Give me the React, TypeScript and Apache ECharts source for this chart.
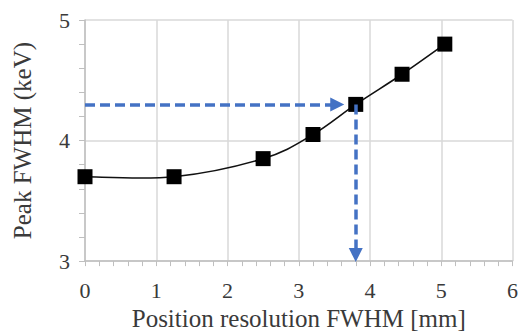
import React, { useEffect, useRef } from "react";
import * as echarts from "echarts";

const xValues = [0, 1.25, 2.5, 3.2, 3.8, 4.45, 5.05];
const yValues = [3.7, 3.7, 3.85, 4.05, 4.3, 4.55, 4.8];
const xTicks = [0, 1, 2, 3, 4, 5, 6];
const yTicks = [3, 4, 5];
const arrowLevel = 4.3;
const arrowHEnd = 3.54;
const arrowX = 3.8;
const arrowVEnd = 3.05;

const FONT = "'Liberation Serif', 'Times New Roman', serif";
const TEXT = "#3a3a3a";

export default function App() {
  const ref = useRef<HTMLDivElement>(null);
  useEffect(() => {
    const chart = echarts.init(ref.current!, undefined, { renderer: "svg" });
    const pts = xValues.map((x, i) => [x, yValues[i]]);
    chart.setOption({
      animation: false,
      grid: { left: 85, right: 2, top: 20, bottom: 70, containLabel: false },
      xAxis: {
        type: "value",
        min: xTicks[0],
        max: xTicks[xTicks.length - 1],
        interval: 1,
        name: "Position resolution FWHM [mm]",
        nameLocation: "middle",
        nameGap: 44,
        nameTextStyle: { fontFamily: FONT, fontSize: 25, color: TEXT },
        axisLine: { lineStyle: { color: "#bfbfbf", width: 1.5 } },
        axisTick: { show: true, inside: false, length: 5, lineStyle: { color: "#bfbfbf" } },
        minorTick: { show: true, splitNumber: 5, length: 5, lineStyle: { color: "#bfbfbf" } },
        axisLabel: { fontFamily: FONT, fontSize: 22, color: TEXT, margin: 18 },
        splitLine: { show: true, lineStyle: { color: "#d9d9d9", width: 1.5 } },
      },
      yAxis: {
        type: "value",
        min: yTicks[0],
        max: yTicks[yTicks.length - 1],
        interval: 1,
        name: "Peak FWHM (keV)",
        nameLocation: "middle",
        nameGap: 50,
        nameTextStyle: { fontFamily: FONT, fontSize: 25, color: TEXT },
        axisLine: { show: true, lineStyle: { color: "#bfbfbf", width: 1.5 } },
        axisTick: { show: true, inside: false, length: 6, lineStyle: { color: "#bfbfbf" } },
        minorTick: { show: true, splitNumber: 5, length: 6, lineStyle: { color: "#bfbfbf" } },
        axisLabel: { fontFamily: FONT, fontSize: 22, color: TEXT, margin: 15 },
        splitLine: { show: true, lineStyle: { color: "#d9d9d9", width: 1.5 } },
      },
      series: [
        {
          type: "custom",
          data: pts.slice(0, pts.length - 1).map((p, i) => [p[0], p[1], i]),
          z: 2,
          renderItem: (params: any, api: any) => {
            const i = params.dataIndex;
            const P = pts.map((p) => api.coord(p));
            const p0 = P[Math.max(i - 1, 0)];
            const p1 = P[i];
            const p2 = P[i + 1];
            const p3 = P[Math.min(i + 2, P.length - 1)];
            const t = 1 / 6;
            return {
              type: "bezierCurve",
              shape: {
                x1: p1[0],
                y1: p1[1],
                x2: p2[0],
                y2: p2[1],
                cpx1: p1[0] + (p2[0] - p0[0]) * t,
                cpy1: p1[1] + (p2[1] - p0[1]) * t,
                cpx2: p2[0] - (p3[0] - p1[0]) * t,
                cpy2: p2[1] - (p3[1] - p1[1]) * t,
              },
              style: { stroke: "#111", lineWidth: 1.6, fill: null },
            };
          },
        },
        {
          type: "line",
          data: pts,
          showSymbol: true,
          symbol: "rect",
          symbolSize: 15,
          lineStyle: { opacity: 0 },
          itemStyle: { color: "#000" },
          z: 3,
          markLine: {
            silent: true,
            animation: false,
            symbol: ["none", "triangle"],
            symbolSize: 14,
            label: { show: false },
            lineStyle: { color: "#4472C4", width: 3.5, type: [10, 5] },
            z: 4,
            data: [
              [{ coord: [xTicks[0], arrowLevel] }, { coord: [arrowHEnd, arrowLevel] }],
              [{ coord: [arrowX, arrowLevel] }, { coord: [arrowX, arrowVEnd] }],
            ],
          },
        },
      ],
    });
    return () => chart.dispose();
  }, []);
  return (
    <div
      ref={ref}
      style={{ position: "absolute", left: 0, top: 0, width: 521, height: 336 }}
    />
  );
}
